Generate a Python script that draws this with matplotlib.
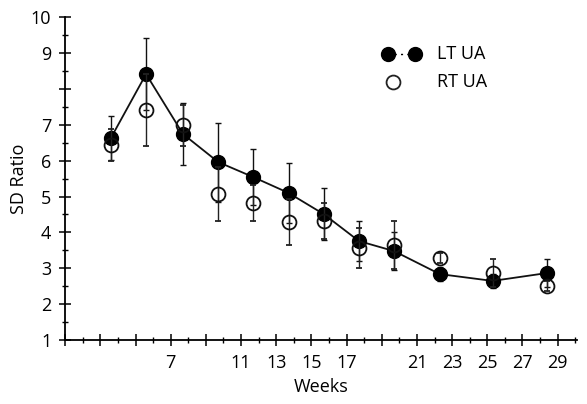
import matplotlib.pyplot as plt
from matplotlib.ticker import MultipleLocator, FixedFormatter, FixedLocator

plt.rcParams['font.family'] = ['Open Sans', 'DejaVu Sans']

weeks = [3.6, 5.6, 7.7, 9.7, 11.7, 13.7, 15.7, 17.7, 19.7, 22.3, 25.3, 28.4]

# Left uterine artery SD ratio and error
lt_ua = [6.63, 8.41, 6.74, 5.96, 5.54, 5.10, 4.51, 3.76, 3.48, 2.84, 2.65, 2.87]
lt_err = [0.6, 1.0, 0.87, 1.1, 0.78, 0.83, 0.72, 0.56, 0.53, 0.2, 0.2, 0.39]

# Right uterine artery SD ratio and error
rt_ua = [6.43, 7.41, 6.99, 5.07, 4.82, 4.29, 4.32, 3.57, 3.65, 3.29, 2.87, 2.51]
rt_err = [0.45, 1.0, 0.57, 0.75, 0.5, 0.64, 0.5, 0.56, 0.67, 0.15, 0.38, 0.15]

# major ticks every 2 weeks, only some are labelled
x_ticks = [1, 3, 5, 7, 9, 11, 13, 15, 17, 19, 21, 23, 25, 27, 29]
x_tick_labels = ['', '', '', '7', '', '11', '13', '15', '17', '',
                 '21', '23', '25', '27', '29']
y_ticks = [1, 2, 3, 4, 5, 6, 7, 8, 9, 10]
y_tick_labels = ['1', '2', '3', '4', '5', '6', '7', '', '9', '10']

fig = plt.figure(figsize=(5.87, 4.04), dpi=100)
ax = fig.add_axes([0.111, 0.158, 0.872, 0.8])

ax.errorbar(weeks, rt_ua, yerr=rt_err, fmt='o', color='#222222', mfc='none',
            mec='#111111', ms=10, mew=1.3, elinewidth=1.0, capsize=2.5,
            capthick=1.0, zorder=3)
ax.errorbar(weeks, lt_ua, yerr=lt_err, fmt='-o', color='#111111', mfc='black',
            mec='black', ms=10, lw=1.3, elinewidth=1.0, capsize=2.5,
            capthick=1.0, zorder=2)

ax.set_xlim(1, 30.1)
ax.set_ylim(1, 10)

for s in ['top', 'right']:
    ax.spines[s].set_visible(False)
for s in ['left', 'bottom']:
    ax.spines[s].set_linewidth(1.3)

ax.xaxis.set_major_locator(FixedLocator(x_ticks))
ax.xaxis.set_major_formatter(FixedFormatter(x_tick_labels))
ax.xaxis.set_minor_locator(MultipleLocator(1))
ax.yaxis.set_major_locator(FixedLocator(y_ticks))
ax.yaxis.set_major_formatter(FixedFormatter(y_tick_labels))
ax.yaxis.set_minor_locator(MultipleLocator(0.5))

ax.tick_params(which='major', direction='inout', length=8, width=1.1,
               labelsize=13, pad=6)
ax.tick_params(which='minor', direction='inout', length=5, width=1.0)

ax.set_xlabel('Weeks', fontsize=13, labelpad=4)
ax.set_ylabel('SD Ratio', fontsize=13, labelpad=2)

# legend drawn by hand in axes coordinates
ax.plot([0.631, 0.684], [0.885, 0.885], '--o', color='black', ms=10, lw=1.0,
        dashes=(1.5, 3), transform=ax.transAxes, clip_on=False)
ax.plot([0.641], [0.80], 'o', mfc='none', mec='#222222', ms=10, mew=1.3,
        transform=ax.transAxes, clip_on=False)
ax.text(0.727, 0.885, 'LT UA', fontsize=13, va='center', transform=ax.transAxes)
ax.text(0.727, 0.80, 'RT UA', fontsize=13, va='center', transform=ax.transAxes)

fig.savefig('out.png', dpi=100)
